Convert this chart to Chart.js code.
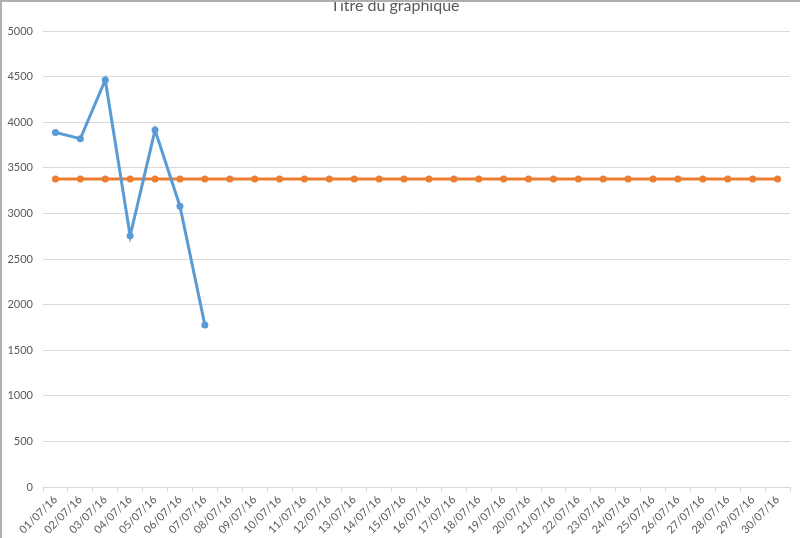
<!DOCTYPE html>
<html>
<head>
<meta charset="utf-8">
<script src="https://cdn.jsdelivr.net/npm/chart.js@4.4.1/dist/chart.umd.min.js"></script>
<style>
html,body{margin:0;padding:0;background:#fff;overflow:hidden;width:800px;height:538px;}
#wrap{position:absolute;left:0;top:-8px;width:800px;height:546px;}
#frame{position:absolute;left:0;top:0;width:798px;height:536px;border-left:2px solid #b0b0b0;border-top:2px solid #b0b0b0;pointer-events:none;}
</style>
</head>
<body>
<div id="wrap"><canvas id="c" width="800" height="546"></canvas></div>
<div id="frame"></div>
<script>
const categories = ["01/07/16","02/07/16","03/07/16","04/07/16","05/07/16","06/07/16","07/07/16","08/07/16","09/07/16","10/07/16","11/07/16","12/07/16","13/07/16","14/07/16","15/07/16","16/07/16","17/07/16","18/07/16","19/07/16","20/07/16","21/07/16","22/07/16","23/07/16","24/07/16","25/07/16","26/07/16","27/07/16","28/07/16","29/07/16","30/07/16"];
const seriesBlue = [3890,3820,4465,2755,3915,3080,1778,null,null,null,null,null,null,null,null,null,null,null,null,null,null,null,null,null,null,null,null,null,null,null];
const seriesOrange = [3380,3380,3380,3380,3380,3380,3380,3380,3380,3380,3380,3380,3380,3380,3380,3380,3380,3380,3380,3380,3380,3380,3380,3380,3380,3380,3380,3380,3380,3380];
const yTicks = [0,500,1000,1500,2000,2500,3000,3500,4000,4500,5000];
const titleText = "Titre du graphique";

const FONT = "Lato, 'Open Sans', sans-serif";
new Chart(document.getElementById('c'), {
  type: 'line',
  data: {
    labels: categories,
    datasets: [
      {data: seriesBlue, borderColor:'#5b9bd5', backgroundColor:'#5b9bd5', borderWidth:3, pointRadius:3.5, pointBorderWidth:0, tension:0, spanGaps:false},
      {data: seriesOrange, borderColor:'#ed7d31', backgroundColor:'#ed7d31', borderWidth:3, pointRadius:3.5, pointBorderWidth:0, tension:0}
    ]
  },
  options: {
    responsive:false, animation:false,
    layout:{padding:{left:0,right:10,top:0,bottom:0}},
    plugins:{
      legend:{display:false},
      tooltip:{enabled:false},
      title:{display:true, text:titleText, color:'#595959', font:{family:FONT,size:16,weight:'normal'}, padding:{top:4,bottom:16}}
    },
    scales:{
      x:{
        offset:true,
        grid:{display:true, drawOnChartArea:false, drawTicks:true, tickLength:5, color:'#d9d9d9', offset:true},
        border:{display:true, color:'#d9d9d9', width:1},
        ticks:{color:'#595959', font:{family:FONT,size:11}, maxRotation:45, minRotation:45, autoSkip:false, padding:1},
        afterFit(s){ s.height = 51; }
      },
      y:{
        min:0, max:5000,
        afterBuildTicks(s){ s.ticks = yTicks.map(v=>({value:v})); },
        grid:{color:'#d9d9d9', drawTicks:false},
        border:{display:false},
        ticks:{color:'#595959', font:{family:FONT,size:11}, padding:10, callback:(v)=>String(v)},
        afterFit(s){ s.width = 43; }
      }
    }
  }
});
</script>
</body>
</html>
